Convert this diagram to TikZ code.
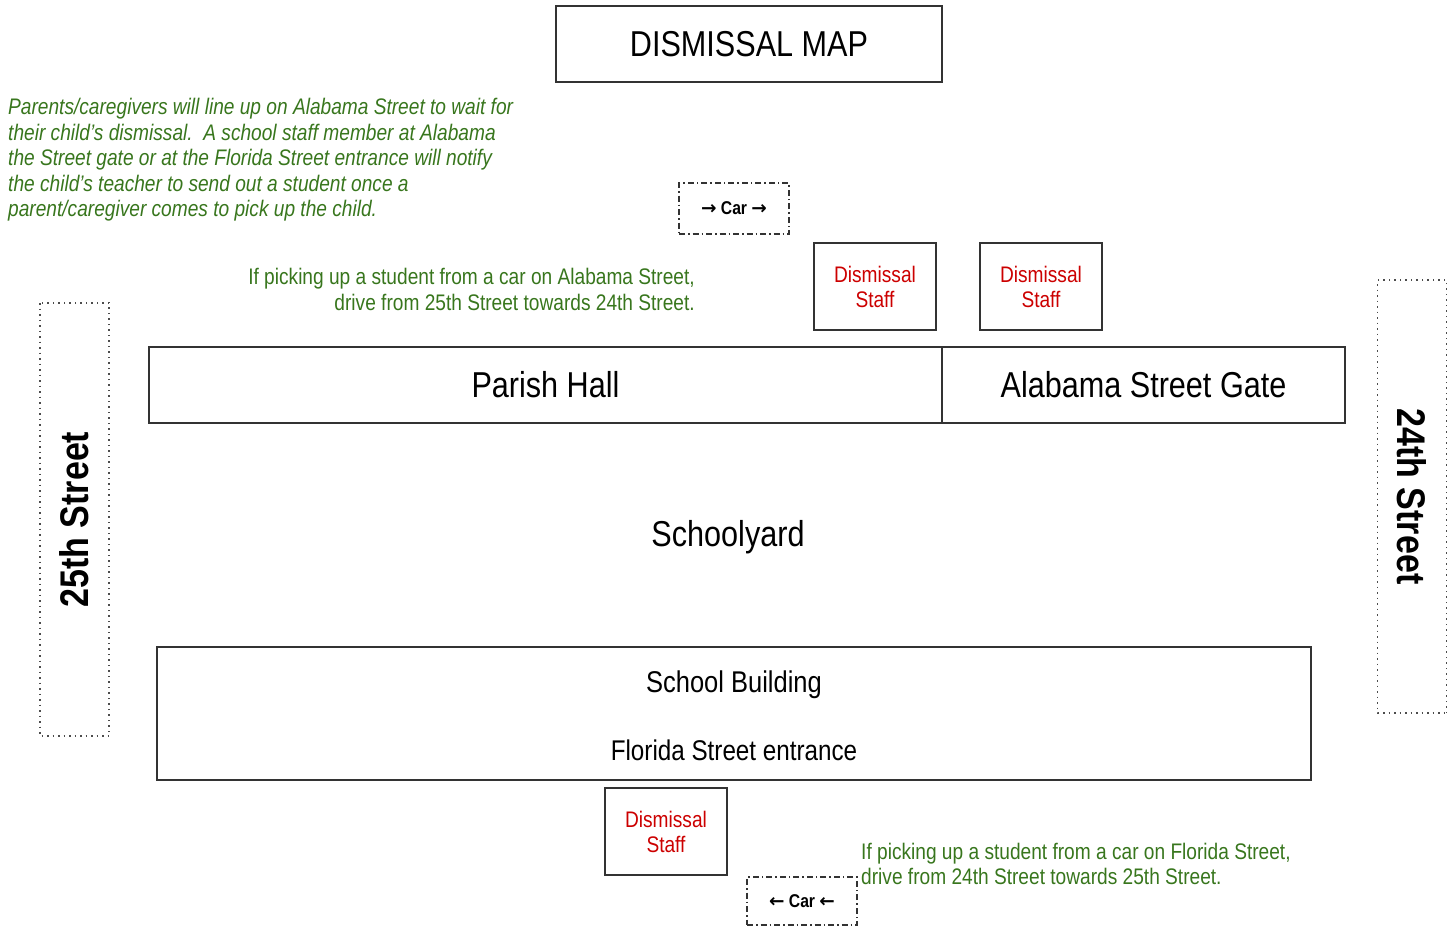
\documentclass[tikz,border=0pt]{standalone}
\usepackage{fontspec}
\setmainfont{Liberation Sans}[FakeStretch=0.85]
\newfontfamily\arrowfont{DejaVu Sans}
\usepackage{xcolor}
\usepackage{tikz}

\definecolor{notegreen}{HTML}{38761D}
\definecolor{staffred}{HTML}{CC0000}
\newcommand{\toright}{{\arrowfont\bfseries →}}
\newcommand{\toleft}{{\arrowfont\bfseries ←}}
\tikzset{
  area/.style={draw=black!80, line width=1.5pt, inner sep=0pt, font=\fontsize{36}{40}\selectfont},
  staffbox/.style={draw=black!80, line width=1.5pt, minimum width=122pt, minimum height=87pt, inner sep=0pt, align=center, text=staffred, font=\fontsize{22.5}{25}\selectfont},
  carbox/.style={draw=black!80, dash pattern=on 6pt off 3pt on 1.5pt off 3pt, line width=1.3pt, minimum width=110pt, minimum height=51pt, inner sep=0pt, font=\bfseries\fontsize{18.5}{20}\selectfont},
  streetbox/.style={draw=black!70, dash pattern=on 1.5pt off 4pt, line width=1.5pt, minimum width=433pt, minimum height=69pt, inner sep=0pt, font=\bfseries\fontsize{40}{44}\selectfont},
  note/.style={text=notegreen, inner sep=0pt, font=\fontsize{22.5}{25.5}\selectfont}
}

\begin{document}
\begin{tikzpicture}[x=1pt, y=-1pt]
        % page frame of the map
        \useasboundingbox (0,0) rectangle (1455,926);

        % title
        \node[area, minimum width=386pt, minimum height=76pt] (title) at (749,44) {DISMISSAL MAP};

        % instructions for parents
        \node[note, align=left, anchor=west, font=\itshape\fontsize{22.5}{25.5}\selectfont] (rules) at (8,160)
          {Parents/caregivers will line up on Alabama Street to wait for\\
           their child's dismissal.\ \ A school staff member at Alabama\\
           the Street gate or at the Florida Street entrance will notify\\
           the child's teacher to send out a student once a\\
           parent/caregiver comes to pick up the child.};

        % Alabama Street side
        \node[carbox] (cartop) at (734,208.5) {\raisebox{-3pt}{\toright\ Car \toright}};
        \node[note, align=right, anchor=east] (alabamanote) at (695,289.5)
          {If picking up a student from a car on Alabama Street,\\
           drive from 25th Street towards 24th Street.};
        \node[staffbox] (staffA) at (875,286.5) {Dismissal\\Staff};
        \node[staffbox] (staffB) at (1041,286.5) {Dismissal\\Staff};

        % buildings along Alabama Street
        \node[area, minimum width=793pt, minimum height=76pt] (parish) at (545.5,385) {Parish Hall};
        \node[area, minimum width=403pt, minimum height=76pt] (gate) at (1143.5,385) {Alabama Street Gate};

        % yard in the middle
        \node[font=\fontsize{36}{40}\selectfont] (yard) at (728,537) {Schoolyard};

        % the cross streets
        \node[streetbox, rotate=90] (street25) at (74.5,519.5) {25th Street};
        \node[streetbox, rotate=-90] (street24) at (1412,496.5) {24th Street};

        % school building on Florida Street
        \node[area, minimum width=1154pt, minimum height=133pt] (school) at (734,713.5) {};
        \node[font=\fontsize{30}{34}\selectfont] (schoolname) at (734,685) {School Building};
        \node[font=\fontsize{28.5}{34}\selectfont] (entrance) at (734,750) {Florida Street entrance};

        % Florida Street side
        \node[staffbox] (staffC) at (666,831.5) {Dismissal\\Staff};
        \node[carbox, minimum height=48pt] (carbottom) at (802,901) {\raisebox{-3pt}{\toleft\ Car \toleft}};
        \node[note, align=left, anchor=west] (floridanote) at (861,864)
          {If picking up a student from a car on Florida Street,\\
           drive from 24th Street towards 25th Street.};
    \end{tikzpicture}
\end{document}
